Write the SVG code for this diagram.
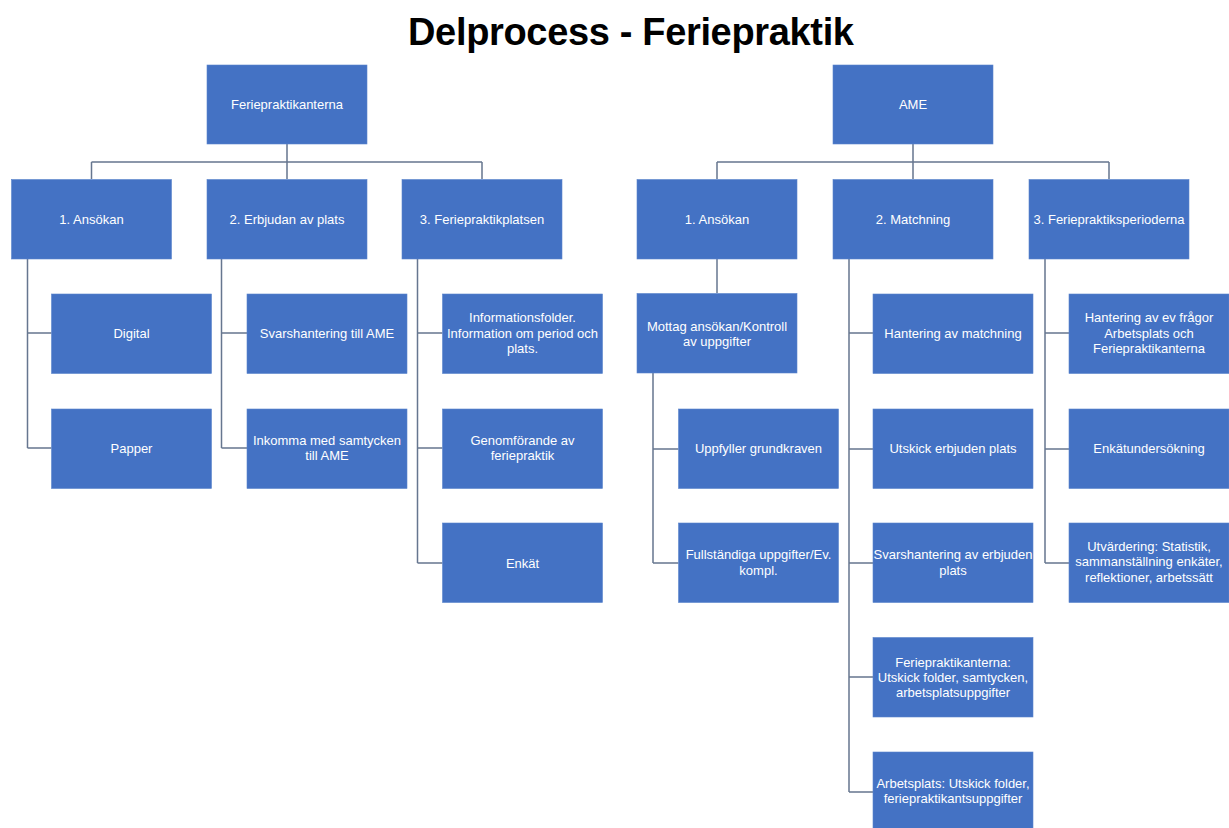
<svg xmlns="http://www.w3.org/2000/svg" width="1229" height="828" viewBox="0 0 1229 828">
<style>
.box{fill:#4472C4;stroke:#5b84cc;stroke-width:0.6}
.t{font-family:"Liberation Sans",Arial,sans-serif;font-size:13px;fill:#ffffff;text-anchor:middle}
.title{font-family:"Liberation Sans",Arial,sans-serif;font-size:38px;font-weight:bold;fill:#000000;text-anchor:middle}
.c{fill:none;stroke:#66768f;stroke-width:1.5}
</style>
<rect width="1229" height="828" fill="#ffffff"/>
<text class="title" x="631" y="45" textLength="446" lengthAdjust="spacing">Delprocess - Feriepraktik</text>

<g id="connectors">
<path class="c" d="M287 144V162M91.5 162H482M91.5 162V179M287 162V179M482 162V179"/>
<path class="c" d="M27.5 259V448M27.5 333H51.5M27.5 448H51.5"/>
<path class="c" d="M221.5 259V448M221.5 333H247M221.5 448H247"/>
<path class="c" d="M417.5 259V563M417.5 333H442.5M417.5 448H442.5M417.5 563H442.5"/>
<path class="c" d="M913 144V162M717 162H1109M717 162V179M913 162V179M1109 162V179"/>
<path class="c" d="M717 259V293"/>
<path class="c" d="M653 373V563M653 449H678.5M653 563H678.5"/>
<path class="c" d="M849 259V792M849 333H873M849 449H873M849 563H873M849 677H873M849 792H873"/>
<path class="c" d="M1045 259V563M1045 333H1069M1045 449H1069M1045 563H1069"/>
</g>

<g id="n-feriepraktikanterna"><rect class="box" x="207" y="65" width="160" height="79"/><text class="t" x="287" y="109">Feriepraktikanterna</text></g>
<g id="n-l-ansokan"><rect class="box" x="11.5" y="179.5" width="160" height="79.5"/><text class="t" x="91.5" y="223.5">1. Ansökan</text></g>
<g id="n-l-erbjudan"><rect class="box" x="207" y="179.5" width="160" height="79.5"/><text class="t" x="287" y="223.5">2. Erbjudan av plats</text></g>
<g id="n-l-platsen"><rect class="box" x="402" y="179.5" width="160" height="79.5"/><text class="t" x="482" y="223.5">3. Feriepraktikplatsen</text></g>

<g id="n-digital"><rect class="box" x="51.5" y="294" width="160" height="79.5"/><text class="t" x="131.5" y="338">Digital</text></g>
<g id="n-papper"><rect class="box" x="51.5" y="409" width="160" height="79.5"/><text class="t" x="131.5" y="453">Papper</text></g>
<g id="n-svarshantering-ame"><rect class="box" x="247" y="294" width="160" height="79.5"/><text class="t" x="327" y="338">Svarshantering till AME</text></g>
<g id="n-inkomma"><rect class="box" x="247" y="409" width="160" height="79.5"/><text class="t" x="327" y="445">Inkomma med samtycken</text><text class="t" x="327" y="460">till AME</text></g>
<g id="n-informationsfolder"><rect class="box" x="442.5" y="294" width="160" height="79.5"/><text class="t" x="522.5" y="322">Informationsfolder.</text><text class="t" x="522.5" y="337.5">Information om period och</text><text class="t" x="522.5" y="353">plats.</text></g>
<g id="n-genomforande"><rect class="box" x="442.5" y="409" width="160" height="79.5"/><text class="t" x="522.5" y="445">Genomförande av</text><text class="t" x="522.5" y="460">feriepraktik</text></g>
<g id="n-enkat"><rect class="box" x="442.5" y="523" width="160" height="79.5"/><text class="t" x="522.5" y="567.5">Enkät</text></g>

<g id="n-ame"><rect class="box" x="833" y="65" width="160" height="79"/><text class="t" x="913" y="109">AME</text></g>
<g id="n-r-ansokan"><rect class="box" x="637" y="179.5" width="160" height="79.5"/><text class="t" x="717" y="223.5">1. Ansökan</text></g>
<g id="n-r-matchning"><rect class="box" x="833" y="179.5" width="160" height="79.5"/><text class="t" x="913" y="223.5">2. Matchning</text></g>
<g id="n-r-perioderna"><rect class="box" x="1029" y="179.5" width="160" height="79.5"/><text class="t" x="1109" y="223.5">3. Feriepraktiksperioderna</text></g>

<g id="n-mottag"><rect class="box" x="637" y="293.5" width="160" height="79.5"/><text class="t" x="717" y="330.5">Mottag ansökan/Kontroll</text><text class="t" x="717" y="345.5">av uppgifter</text></g>
<g id="n-uppfyller"><rect class="box" x="678.5" y="409" width="160" height="79.5"/><text class="t" x="758.5" y="453">Uppfyller grundkraven</text></g>
<g id="n-fullstandiga"><rect class="box" x="678.5" y="523" width="160" height="79.5"/><text class="t" x="758.5" y="559">Fullständiga uppgifter/Ev.</text><text class="t" x="758.5" y="574.5">kompl.</text></g>

<g id="n-hantering-matchning"><rect class="box" x="873" y="294" width="160" height="79.5"/><text class="t" x="953" y="338">Hantering av matchning</text></g>
<g id="n-utskick-erbjuden"><rect class="box" x="873" y="409" width="160" height="79.5"/><text class="t" x="953" y="453">Utskick erbjuden plats</text></g>
<g id="n-svarshantering-erbjuden"><rect class="box" x="873" y="523" width="160" height="79.5"/><text class="t" x="953" y="559">Svarshantering av erbjuden</text><text class="t" x="953" y="574.5">plats</text></g>
<g id="n-feriepraktikanterna-utskick"><rect class="box" x="873" y="637.5" width="160" height="79.5"/><text class="t" x="953" y="666.5">Feriepraktikanterna:</text><text class="t" x="953" y="681.5">Utskick folder, samtycken,</text><text class="t" x="953" y="697">arbetsplatsuppgifter</text></g>
<g id="n-arbetsplats-utskick"><rect class="box" x="873" y="752" width="160" height="79.5"/><text class="t" x="953" y="787.5">Arbetsplats: Utskick folder,</text><text class="t" x="953" y="802.5">feriepraktikantsuppgifter</text></g>

<g id="n-hantering-fragor"><rect class="box" x="1069" y="294" width="160" height="79.5"/><text class="t" x="1149" y="322">Hantering av ev frågor</text><text class="t" x="1149" y="337.5">Arbetsplats och</text><text class="t" x="1149" y="353">Feriepraktikanterna</text></g>
<g id="n-enkatundersokning"><rect class="box" x="1069" y="409" width="160" height="79.5"/><text class="t" x="1149" y="453">Enkätundersökning</text></g>
<g id="n-utvardering"><rect class="box" x="1069" y="523" width="160" height="79.5"/><text class="t" x="1149" y="550.5">Utvärdering: Statistik,</text><text class="t" x="1149" y="566">sammanställning enkäter,</text><text class="t" x="1149" y="581.5">reflektioner, arbetssätt</text></g>
</svg>
